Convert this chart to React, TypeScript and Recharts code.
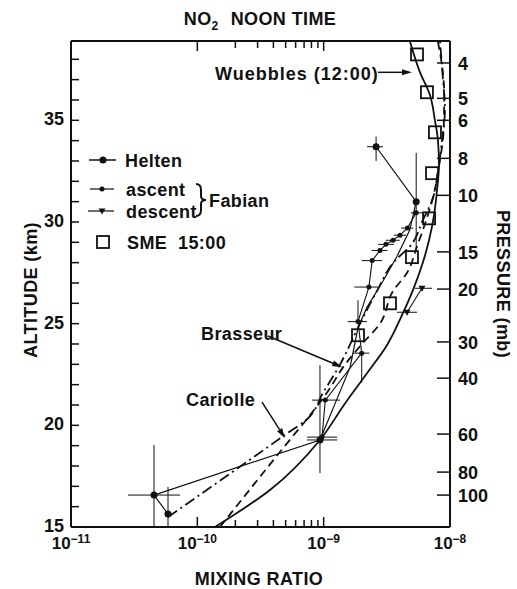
import React from 'react';
import {
  ComposedChart, Line, Scatter, XAxis, YAxis, ErrorBar, ReferenceLine,
} from 'recharts';

// axis ticks
const decadeTicks = [1e-11, 1e-10, 1e-9, 1e-8];
const minorTicks = [2e-10, 3e-10, 4e-10, 5e-10, 6e-10, 7e-10, 8e-10, 9e-10];
const altTicks = [15, 16, 17, 18, 19, 20, 21, 22, 23, 24, 25, 26, 27, 28, 29, 30, 31, 32, 33, 34, 35, 36, 37, 38];
const altLabels = [15, 20, 25, 30, 35];
const pressureLabels = [4, 5, 6, 8, 10, 15, 20, 30, 40, 60, 80, 100];
const pressureAlt = [37.82, 36.08, 35.0, 33.13, 31.31, 28.53, 26.7, 24.1, 22.32, 19.57, 17.7, 16.57];

// model curves (altitude km, mixing ratio)
const wuebAlt = [15.0, 16.82, 19.28, 21.09, 22.62, 23.94, 25.42, 26.65, 27.87, 29.1, 30.33, 31.56, 32.79, 34.02, 35.0, 36.23, 37.36, 38.88];
const wuebX = [1.38e-10, 3.76e-10, 9.35e-10, 1.48e-9, 2.24e-9, 3.17e-9, 4.17e-9, 5.09e-9, 6.0e-9, 6.82e-9, 7.47e-9, 7.89e-9, 8.18e-9, 8.03e-9, 7.6e-9, 6.95e-9, 5.79e-9, 4.82e-9];

const brasAlt = [15.49, 19.6, 20.3, 21.6, 23.0, 24.8, 26.6, 28.1, 28.8, 30.1, 31.2, 32.5, 34.0, 35.5, 37.0, 38.9];
const brasX = [5.86e-11, 5.13e-10, 7.39e-10, 9.88e-10, 1.35e-9, 1.87e-9, 2.64e-9, 3.67e-9, 4.82e-9, 6.11e-9, 7.34e-9, 8.03e-9, 8.64e-9, 9.12e-9, 8.8e-9, 8.33e-9];

const cariAlt = [15.0, 19.3, 20.5, 21.6, 23.0, 24.0, 25.0, 26.6, 27.5, 28.8, 30.2, 31.2, 32.8, 34.5, 36.3, 38.0, 38.9];
const cariX = [1.51e-10, 5.42e-10, 7.8e-10, 1.06e-9, 1.48e-9, 2.01e-9, 2.79e-9, 3.54e-9, 4.57e-9, 5.48e-9, 6.57e-9, 7.34e-9, 8.2e-9, 8.9e-9, 9.0e-9, 8.5e-9, 8.0e-9];

// Helten balloon: measured points and the line joining the profile
const heltenAlt = [15.64, 16.57, 19.28, 31.0, 33.7];
const heltenX = [5.86e-11, 4.54e-11, 9.35e-10, 5.4e-9, 2.6e-9];
const heltenXLo = [5.86e-11, 2.83e-11, 7.39e-10, 5.4e-9, 2.2e-9];
const heltenXHi = [5.86e-11, 7.3e-11, 1.28e-9, 5.4e-9, 2.95e-9];
const heltenAltLo = [15.0, 15.0, 17.65, 28.6, 33.0];
const heltenAltHi = [16.97, 19.03, 22.96, 33.4, 34.2];
const heltenLineAlt = [15.64, 16.57, 19.28, 22.86, 24.8, 25.8, 27.1, 28.3, 29.6, 31.0, 33.7];
const heltenLineX = [5.86e-11, 4.54e-11, 9.35e-10, 1.62e-9, 1.87e-9, 2.2e-9, 2.95e-9, 3.8e-9, 4.8e-9, 5.4e-9, 2.6e-9];

// Fabian ascent / descent
const fabAscAlt = [19.42, 21.24, 23.55, 25.1, 26.8, 28.1, 28.6, 28.9, 29.1, 29.35, 29.7, 30.45];
const fabAscX = [9.7e-10, 1.03e-9, 2.0e-9, 1.87e-9, 2.28e-9, 2.42e-9, 2.79e-9, 3.11e-9, 3.54e-9, 4.02e-9, 4.6e-9, 5.4e-9];
const fabAscLo = [7.4e-10, 8.1e-10, 1.7e-9, 1.55e-9, 1.75e-9, 2.0e-9, 2.4e-9, 2.7e-9, 3.1e-9, 3.6e-9, 4.1e-9, 4.9e-9];
const fabAscHi = [1.28e-9, 1.35e-9, 2.3e-9, 2.2e-9, 2.7e-9, 2.9e-9, 3.2e-9, 3.6e-9, 4.0e-9, 4.5e-9, 5.1e-9, 6.0e-9];
const fabAscAltLo = [19.42, 21.24, 22.1, 25.1, 26.8, 28.1, 28.6, 28.9, 29.1, 29.35, 29.7, 30.45];
const fabAscAltHi = [19.42, 21.24, 23.55, 26.15, 26.8, 28.1, 28.6, 28.9, 29.1, 29.35, 29.7, 30.45];

const fabDesAlt = [25.56, 26.74];
const fabDesX = [4.57e-9, 6.0e-9];
const fabDesLo = [3.81e-9, 5.28e-9];
const fabDesHi = [5.48e-9, 7.21e-9];

// SME 15:00
const smeAlt = [38.24, 36.38, 34.41, 32.4, 30.18, 28.27, 26.0, 24.43];
const smeX = [5.48e-9, 6.57e-9, 7.6e-9, 7.21e-9, 6.83e-9, 5.0e-9, 3.35e-9, 1.87e-9];

// annotation arrows [x, alt] start -> end
const wuebArrow = [[2.69e-9, 37.36], [5.0e-9, 37.36]];
const brasArrow = [[3.62e-10, 24.39], [1.4e-9, 22.86]];
const cariArrow = [[3.25e-10, 21.14], [4.94e-10, 19.37]];

const FONT = '"Liberation Sans", Arial, sans-serif';
const BLACK = '#111';

const rows = (xs: number[], alts: number[]) => xs.map((x, i) => ({ x, alt: alts[i] }));

const helten = heltenX.map((x, i) => ({
  x, alt: heltenAlt[i],
  ex: [x - heltenXLo[i], heltenXHi[i] - x],
  ey: [heltenAlt[i] - heltenAltLo[i], heltenAltHi[i] - heltenAlt[i]],
}));
const fabAsc = fabAscX.map((x, i) => ({
  x, alt: fabAscAlt[i],
  ex: [x - fabAscLo[i], fabAscHi[i] - x],
  ey: [fabAscAlt[i] - fabAscAltLo[i], fabAscAltHi[i] - fabAscAlt[i]],
}));
const fabDes = fabDesX.map((x, i) => ({ x, alt: fabDesAlt[i], ex: [x - fabDesLo[i], fabDesHi[i] - x] }));

function isDecade(v: number) {
  const e = Math.log10(v);
  return Math.abs(e - Math.round(e)) < 1e-6;
}
function tickMarked(v: number) {
  return v > 0.99e-10 && v < 1.01e-9;
}

function BottomTick({ x, y, payload }: any) {
  const v = payload.value;
  const dec = isDecade(v);
  return (
    <g>
      {tickMarked(v) && (
        <line x1={x} x2={x} y1={y} y2={y - (dec ? 10 : 7)} stroke={BLACK} strokeWidth={1.5} />
      )}
      {dec && (
        <text x={x} y={y + 22} textAnchor="middle" fontFamily={FONT} fontWeight="bold" fontSize={17} fill={BLACK}>
          10<tspan dy={-6} fontSize={12}>{'\u2212' + (-Math.round(Math.log10(v)))}</tspan>
        </text>
      )}
    </g>
  );
}

function TopTick({ x, y, payload }: any) {
  const v = payload.value;
  if (!tickMarked(v)) return null;
  return <line x1={x} x2={x} y1={y} y2={y + (isDecade(v) ? 10 : 7)} stroke={BLACK} strokeWidth={1.5} />;
}

function LeftTick({ x, y, payload }: any) {
  const v = payload.value;
  return (
    <g>
      {v > 15 && <line x1={x} x2={x + 8} y1={y} y2={y} stroke={BLACK} strokeWidth={1.5} />}
      {altLabels.includes(v) && (
        <text x={x - 7} y={y + 5} textAnchor="end" fontFamily={FONT} fontWeight="bold" fontSize={18} fill={BLACK}>
          {v}
        </text>
      )}
    </g>
  );
}

function RightTick({ x, y, index }: any) {
  return (
    <g>
      <line x1={x - 13} x2={x} y1={y} y2={y} stroke={BLACK} strokeWidth={1.5} />
      <text x={x + 8} y={y + 7} textAnchor="start" fontFamily={FONT} fontWeight="bold" fontSize={18} fill={BLACK}>
        {pressureLabels[index]}
      </text>
    </g>
  );
}

function Arrow({ x1, y1, x2, y2 }: any) {
  const a = Math.atan2(y2 - y1, x2 - x1);
  const L = 10;
  const W = 3;
  const bx = x2 - L * Math.cos(a);
  const by = y2 - L * Math.sin(a);
  const pts = `${x2},${y2} ${bx - W * Math.sin(a)},${by + W * Math.cos(a)} ${bx + W * Math.sin(a)},${by - W * Math.cos(a)}`;
  return (
    <g>
      <line x1={x1} y1={y1} x2={bx} y2={by} stroke={BLACK} strokeWidth={1.5} />
      <polygon points={pts} fill={BLACK} />
    </g>
  );
}

const dot = (r: number) => (p: any) => <circle cx={p.cx} cy={p.cy} r={r} fill={BLACK} />;
const noMark = () => <g />;
const triDown = (p: any) => (
  <polygon points={`${p.cx - 3.5},${p.cy - 2.5} ${p.cx + 3.5},${p.cy - 2.5} ${p.cx},${p.cy + 3.5}`} fill={BLACK} />
);
const square = (p: any) => (
  <rect x={p.cx - 6} y={p.cy - 6} width={12} height={12} fill="none" stroke={BLACK} strokeWidth={1.8} />
);

const txt = { fontFamily: FONT, fontWeight: 'bold' as const, fontSize: 18, fill: BLACK, letterSpacing: 0.4 };

export default function App() {
  const ids = { xAxisId: 'b', yAxisId: 'alt' };
  return (
    <div style={{ position: 'absolute', left: 0, top: 0, width: 517, height: 589, background: '#fff' }}>
      <ComposedChart width={517} height={589} margin={{ top: 0, right: 0, bottom: 0, left: 0 }}>
        <XAxis
          xAxisId="b" dataKey="x" type="number" scale="log" domain={[1e-11, 1e-8]} allowDataOverflow
          ticks={[...decadeTicks, ...minorTicks].sort((a, b) => a - b)} interval={0}
          height={62} tickSize={0} tickMargin={0} tickLine={false} tick={<BottomTick />}
          axisLine={{ stroke: BLACK, strokeWidth: 2 }}
        />
        <XAxis
          xAxisId="t" orientation="top" dataKey="x" type="number" scale="log" domain={[1e-11, 1e-8]} allowDataOverflow
          ticks={[1e-10, ...minorTicks, 1e-9]} interval={0}
          height={41} tickSize={0} tickMargin={0} tickLine={false} tick={<TopTick />}
          axisLine={{ stroke: BLACK, strokeWidth: 2 }}
        />
        <YAxis
          yAxisId="alt" dataKey="alt" type="number" domain={[15, 38.9]} allowDataOverflow
          ticks={altTicks} interval={0} width={71} tickSize={0} tickMargin={0} tickLine={false}
          tick={<LeftTick />} axisLine={{ stroke: BLACK, strokeWidth: 2 }}
        />
        <YAxis
          yAxisId="p" orientation="right" type="number" domain={[15, 38.9]} allowDataOverflow
          ticks={pressureAlt} interval={0} width={67} tickSize={0} tickMargin={0} tickLine={false}
          tick={<RightTick />} axisLine={{ stroke: BLACK, strokeWidth: 2 }}
        />

        <Line {...ids} data={rows(wuebX, wuebAlt)} dataKey="alt" type="monotoneY" stroke={BLACK} strokeWidth={1.8} dot={false} isAnimationActive={false} />
        <Line {...ids} data={rows(brasX, brasAlt)} dataKey="alt" type="monotoneY" stroke={BLACK} strokeWidth={1.8} strokeDasharray="11 4 2 4" dot={false} isAnimationActive={false} />
        <Line {...ids} data={rows(cariX, cariAlt)} dataKey="alt" type="monotoneY" stroke={BLACK} strokeWidth={1.8} strokeDasharray="8 5" dot={false} isAnimationActive={false} />

        <Scatter {...ids} data={rows(heltenLineX, heltenLineAlt)} line={{ stroke: BLACK, strokeWidth: 1.2 }} lineType="joint" shape={noMark} isAnimationActive={false} />
        <Scatter {...ids} data={helten} shape={dot(3.5)} isAnimationActive={false}>
          <ErrorBar dataKey="ex" direction="x" width={0} stroke={BLACK} strokeWidth={1} />
          <ErrorBar dataKey="ey" direction="y" width={0} stroke={BLACK} strokeWidth={1} />
        </Scatter>
        <Scatter {...ids} data={fabAsc} line={{ stroke: BLACK, strokeWidth: 1.1 }} lineType="joint" shape={dot(2.5)} isAnimationActive={false}>
          <ErrorBar dataKey="ex" direction="x" width={0} stroke={BLACK} strokeWidth={1} />
          <ErrorBar dataKey="ey" direction="y" width={0} stroke={BLACK} strokeWidth={1} />
        </Scatter>
        <Scatter {...ids} data={fabDes} line={{ stroke: BLACK, strokeWidth: 1.1 }} lineType="joint" shape={triDown} isAnimationActive={false}>
          <ErrorBar dataKey="ex" direction="x" width={0} stroke={BLACK} strokeWidth={1} />
        </Scatter>
        <Scatter {...ids} data={rows(smeX, smeAlt)} shape={square} isAnimationActive={false} />

        {[wuebArrow, brasArrow, cariArrow].map((s, i) => (
          <ReferenceLine
            key={i} {...ids} ifOverflow="visible"
            segment={[{ x: s[0][0], y: s[0][1] }, { x: s[1][0], y: s[1][1] }]}
            shape={(p: any) => <Arrow {...p} />}
          />
        ))}
      </ComposedChart>

      <svg width={517} height={589} style={{ position: 'absolute', left: 0, top: 0, pointerEvents: 'none' }}>
        <text x={260} y={25} textAnchor="middle" {...txt}>
          NO<tspan fontSize={12} dy={5}>2</tspan><tspan dy={-5} dx={12}>NOON TIME</tspan>
        </text>
        <text transform="translate(37,290) rotate(-90)" textAnchor="middle" {...txt}>ALTITUDE (km)</text>
        <text transform="translate(497,284) rotate(90)" textAnchor="middle" {...txt}>PRESSURE (mb)</text>
        <text x={259} y={585} textAnchor="middle" {...txt}>MIXING RATIO</text>

        <text x={215} y={80} {...txt} letterSpacing={1}>Wuebbles (12:00)</text>
        <text x={201} y={340} {...txt}>Brasseur</text>
        <text x={186} y={406} {...txt}>Cariolle</text>

        {/* legend */}
        <line x1={89} x2={116} y1={160} y2={160} stroke={BLACK} strokeWidth={1.5} />
        <circle cx={103} cy={160} r={3.5} fill={BLACK} />
        <text x={125} y={167} {...txt}>Helten</text>
        <line x1={90} x2={114} y1={189} y2={189} stroke={BLACK} strokeWidth={1.2} />
        <circle cx={102} cy={189} r={2.5} fill={BLACK} />
        <text x={126} y={196} {...txt}>ascent</text>
        <line x1={88} x2={114} y1={211} y2={211} stroke={BLACK} strokeWidth={1.2} />
        <polygon points="98.5,208.5 105.5,208.5 102,214.5" fill={BLACK} />
        <text x={126} y={218} {...txt}>descent</text>
        <path d="M196,184 Q201,184 201,190 L201,196 Q201,200 206,200 Q201,200 201,204 L201,210 Q201,216 196,216" fill="none" stroke={BLACK} strokeWidth={2} />
        <text x={209} y={207} {...txt}>Fabian</text>
        <rect x={97} y={236} width={12} height={12} fill="none" stroke={BLACK} strokeWidth={1.8} />
        <text x={127} y={249} {...txt}>SME</text>
        <text x={178} y={249} {...txt}>15:00</text>
      </svg>
    </div>
  );
}
